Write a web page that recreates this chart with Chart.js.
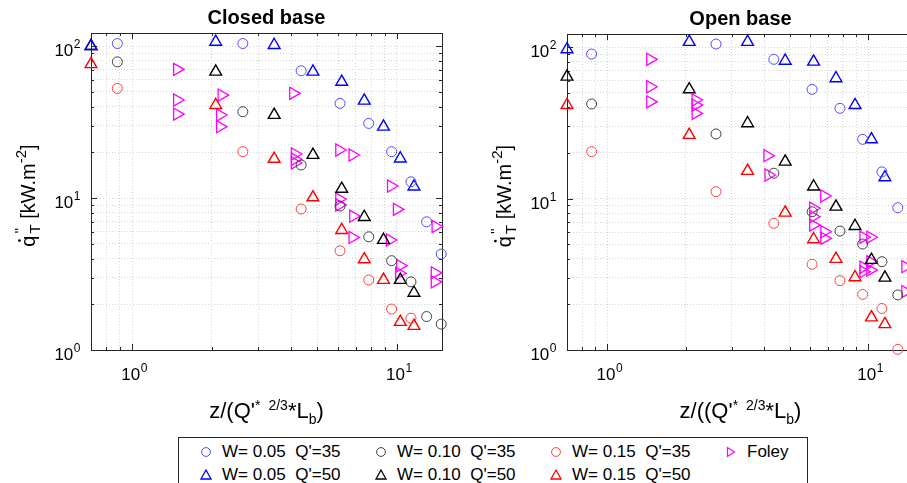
<!DOCTYPE html>
<html lang="en">
<head>
<meta charset="UTF-8" />
<title>Total heat flux - closed and open base</title>
<script src="https://cdn.jsdelivr.net/npm/chart.js"></script>
<style>
  html, body { margin: 0; padding: 0; background: #fff; overflow: hidden; width: 907px; height: 483px; }
  canvas { position: absolute; top: 0; }
  #closedChart { left: 0; }
  #openChart { left: 470px; }
  #legend { position: absolute; left: 178px; top: 437px; width: 630px; height: 70px;
            border: 1px solid #262626; box-sizing: border-box; background: #fff;
            font-family: "Liberation Sans", Arial, sans-serif; font-size: 17px; color: #000; }
  .item { position: absolute; height: 20px; white-space: pre; line-height: 20px; }
  .item svg { position: absolute; left: -8px; top: 2px; }
  .item span { position: absolute; left: 16px; top: 0; }
</style>
</head>
<body>
<canvas id="closedChart" width="460" height="430"></canvas>
<canvas id="openChart" width="460" height="430"></canvas>
<div id="legend"></div>

<script>
// series names, in legend order (row 1 then row 2)
const seriesNames = ["W= 0.05  Q'=35", "W= 0.05  Q'=50", "W= 0.10  Q'=35", "W= 0.10  Q'=50",
                     "W= 0.15  Q'=35", "W= 0.15  Q'=50", "Foley"];

// non-dimensional height z/(Q*^(2/3) Lb) for the two heat release rates
const closedQ35X = [0.88, 2.62, 4.35, 6.10, 7.83, 9.55, 11.3, 12.95, 14.7];
const closedQ50X = [0.70, 2.07, 3.44, 4.82, 6.19, 7.53, 8.90, 10.3, 11.6];
const openQ35X   = [0.87, 2.61, 4.35, 6.10, 7.80, 9.53, 11.3, 13.0];
const openQ50X   = [0.70, 2.06, 3.45, 4.81, 6.18, 7.53, 8.91, 10.3, 11.6];

// closed base, total heat flux [kW/m2]
const closedW05Q35 = [104, 104, 68.8, 42, 31, 20.2, 12.8, 6.98, 4.28];
const closedW05Q50 = [100, 106.7, 101.6, 67.8, 58.2, 43.7, 29.5, 18.2, 11.9];
const closedW10Q35 = [78.8, 37, 16.5, 8.86, 5.56, 3.87, 2.81, 1.66, 1.48];
const closedW10Q50 = [100, 67.8, 35.2, 19.2, 11.5, 7.5, 5.3, 2.89, 2.38];
const closedW15Q35 = [52.7, 20.2, 8.47, 4.5, 2.89, 1.86, 1.62];
const closedW15Q50 = [76, 40.9, 18.1, 10.1, 6.16, 3.95, 2.89, 1.53, 1.44];
const closedFoleyX = [1.48, 1.48, 1.48, 2.18, 2.15, 2.15, 4.06, 4.12, 4.12, 4.12, 6.06, 6.8,
                      9.5, 6.06, 6.06, 6.84, 6.8, 9.41, 10.0, 14.0, 10.3, 10.2, 13.9, 13.9];
const closedFoleyY = [70.3, 44.2, 35.7, 47.6, 35.2, 29.5, 48.9, 19.5, 18.0, 17.0, 20.7, 19.2,
                      12.0, 9.85, 9.0, 7.6, 5.51, 5.3, 8.43, 6.5, 3.59, 3.2, 3.22, 2.81];

// open base
const openW05Q35 = [89.9, 104.7, 83, 52.6, 39.4, 24.6, 15, 8.7];
const openW05Q50 = [96.6, 108, 108, 81.2, 80, 62.2, 41.4, 24.6, 13.8];
const openW10Q35 = [42.1, 26.7, 14.7, 8.18, 6.1, 5.01, 3.83, 2.31];
const openW10Q50 = [63.7, 52.6, 31.4, 17.5, 12.0, 8.83, 6.58, 3.93, 3.0];
const openW15Q35 = [20.4, 11.1, 6.86, 3.68, 2.87, 2.33, 1.88, 1.01];
const openW15Q50 = [41.4, 26.3, 15.2, 8.06, 5.38, 3.99, 3.02, 1.64, 1.48];
const openFoleyX = [1.46, 1.46, 1.46, 2.18, 2.18, 2.18, 4.11, 4.15, 6.79, 6.16, 6.16, 6.16,
                    6.8, 6.8, 9.6, 10.2, 10.2, 9.6, 10.2, 9.6, 13.9, 13.9];
const openFoleyY = [83, 54.7, 43.5, 44.7, 41.4, 36.5, 19.2, 14.3, 10.4, 8.62, 7.59, 6.68,
                    6.04, 5.46, 5.55, 5.55, 3.83, 3.52, 3.37, 3.29, 3.55, 2.43];

// grid positions (log decades)
const xGridValues = [0.7, 0.8, 0.9, 1, 2, 3, 4, 5, 6, 7, 8, 9, 10, 20];
const yGridValues = [1, 2, 3, 4, 5, 6, 7, 8, 9, 10, 20, 30, 40, 50, 60, 70, 80, 90, 100, 200];

const FONT = '"Liberation Sans", Arial, sans-serif';
const marks = [
  { color: '#4d4dff', style: 'circle',   r: 5,   w: 1 },
  { color: '#0000ff', style: 'triangle', r: 6.8, w: 1.4 },
  { color: '#404040', style: 'circle',   r: 5,   w: 1 },
  { color: '#000000', style: 'triangle', r: 6.8, w: 1.4 },
  { color: '#ff4040', style: 'circle',   r: 5,   w: 1 },
  { color: '#ff0000', style: 'triangle', r: 6.8, w: 1.4 },
  { color: '#ff00ff', style: 'triangle', r: 7,   w: 1.3, rot: 90 }
];

const zip = (xs, ys) => ys.map((v, i) => ({ x: xs[i], y: v }));
const isPow10 = v => Math.abs(Math.log10(v) - Math.round(Math.log10(v))) < 1e-9;

// draws a run of text pieces: {t, s: font size, dy: baseline shift, stay: don't advance, dot: dot over previous}
function richWidth(ctx, parts) {
  let w = 0;
  for (const p of parts) {
    if (p.dot || p.stay) continue;
    if (p.gap) { w += p.gap; continue; }
    ctx.font = (p.b ? 'bold ' : '') + p.s + 'px ' + FONT;
    w += ctx.measureText(p.t).width;
  }
  return w;
}
function drawRich(ctx, parts, cx, y) {
  let x = cx - richWidth(ctx, parts) / 2;
  let prev = null;
  ctx.textBaseline = 'alphabetic';
  ctx.textAlign = 'left';
  for (const p of parts) {
    if (p.gap) { x += p.gap; continue; }
    if (p.dot) {
      ctx.beginPath();
      ctx.arc(prev.x + prev.w / 2 + 0.5, y - prev.s * 0.78, 1.4, 0, Math.PI * 2);
      ctx.fill();
      continue;
    }
    ctx.font = (p.b ? 'bold ' : '') + p.s + 'px ' + FONT;
    ctx.fillText(p.t, x, y + (p.dy || 0));
    const w = ctx.measureText(p.t).width;
    prev = { x, w, s: p.s };
    if (!p.stay) x += w;
  }
}
function drawPow(ctx, exp, x, y, align) {
  ctx.font = '17px ' + FONT;
  const w1 = ctx.measureText('10').width;
  ctx.font = '12px ' + FONT;
  const w2 = ctx.measureText(exp).width;
  const left = align === 'right' ? x - w1 - w2 : x - (w1 + w2) / 2;
  ctx.textAlign = 'left';
  ctx.textBaseline = 'alphabetic';
  ctx.font = '17px ' + FONT;
  ctx.fillText('10', left, y);
  ctx.font = '12px ' + FONT;
  ctx.fillText(exp, left + w1 + 0.5, y - 8);
}

const yTitle = [
  { t: 'q', s: 20 }, { dot: true }, { gap: 2 },
  { t: "''", s: 15, dy: -10, stay: true }, { t: 'T', s: 15, dy: 5 },
  { t: ' [kW.m', s: 20 }, { t: '-2', s: 15, dy: -9 }, { t: ']', s: 20 }
];

const axesFrame = {
  id: 'axesFrame',
  beforeDatasetsDraw(chart) {
    const { ctx, chartArea: a, scales: { x, y } } = chart;
    ctx.save();
    ctx.strokeStyle = '#262626';
    ctx.lineWidth = 1;
    ctx.beginPath();
    for (const t of x.ticks) {
      const px = Math.round(x.getPixelForValue(t.value)) + 0.5;
      const len = isPow10(t.value) ? 6 : 3;
      ctx.moveTo(px, a.bottom); ctx.lineTo(px, a.bottom - len);
      ctx.moveTo(px, a.top); ctx.lineTo(px, a.top + len);
    }
    for (const t of y.ticks) {
      const py = Math.round(y.getPixelForValue(t.value)) + 0.5;
      const len = isPow10(t.value) ? 6 : 3;
      ctx.moveTo(a.left, py); ctx.lineTo(a.left + len, py);
      ctx.moveTo(a.right, py); ctx.lineTo(a.right - len, py);
    }
    ctx.stroke();
    ctx.strokeRect(Math.round(a.left) + 0.5, Math.round(a.top) + 0.5,
                   Math.round(a.right - a.left), Math.round(a.bottom - a.top));
    ctx.restore();
  },
  afterDraw(chart, args, opts) {
    const { ctx, chartArea: a, scales: { x, y } } = chart;
    ctx.save();
    ctx.fillStyle = '#000';
    // decade labels
    for (const v of [1, 10, 100]) {
      if (v >= y.min && v <= y.max) drawPow(ctx, String(Math.log10(v)), a.left - 11, y.getPixelForValue(v) + 10, 'right');
      if (v >= x.min && v <= x.max) drawPow(ctx, String(Math.log10(v)), x.getPixelForValue(v) + 2, a.bottom + 30, 'center');
    }
    const cx = (a.left + a.right) / 2;
    // title
    drawRich(ctx, [{ t: opts.title, s: 20, b: true }], cx, a.top - 9);
    // x axis title
    drawRich(ctx, opts.xTitle, cx, a.bottom + 68);
    // y axis title
    ctx.translate(a.left - 56, (a.top + a.bottom) / 2 + 4);
    ctx.rotate(-Math.PI / 2);
    drawRich(ctx, yTitle, 0, 0);
    ctx.restore();
  }
};

function xTitleParts(open) {
  return [
    { t: open ? 'z/((Q\'' : 'z/(Q\'', s: 22 }, { t: '*', s: 14, dy: -8 }, { gap: 8 },
    { t: '2/3', s: 14, dy: -8 }, { t: '*L', s: 22 }, { t: 'b', s: 14, dy: 6 }, { t: ')', s: 22 }
  ];
}

function makeDatasets(sets) {
  return sets.map((pts, i) => ({
    label: seriesNames[i],
    data: pts,
    pointStyle: marks[i].style,
    pointRadius: marks[i].r,
    pointRotation: marks[i].rot || 0,
    borderColor: marks[i].color,
    backgroundColor: 'rgba(0,0,0,0)',
    pointBorderWidth: marks[i].w,
    clip: false
  }));
}

function makePanel(id, title, xTitle, sets, xMax, area) {
  const canvas = document.getElementById(id);
  const gridTicks = vals => s => {
    s.ticks = vals.filter(v => v >= s.min - 1e-9 && v <= s.max + 1e-9).map(v => ({ value: v }));
  };
  return new Chart(canvas, {
    type: 'scatter',
    data: { datasets: makeDatasets(sets) },
    options: {
      responsive: false,
      animation: false,
      layout: { padding: { left: area.left, top: area.top,
                           right: canvas.width - area.right, bottom: canvas.height - area.bottom } },
      plugins: {
        legend: { display: false },
        tooltip: { enabled: false },
        axesFrame: { title, xTitle }
      },
      scales: {
        x: {
          type: 'logarithmic', min: 0.7, max: xMax,
          afterBuildTicks: gridTicks(xGridValues),
          afterFit: s => { s.height = 0; },
          ticks: { display: false },
          grid: { color: '#d4d4d4', drawTicks: false, lineWidth: 1 },
          border: { display: false, dash: [1, 2] }
        },
        y: {
          type: 'logarithmic', min: 1, max: 122,
          afterBuildTicks: gridTicks(yGridValues),
          afterFit: s => { s.width = 0; },
          ticks: { display: false },
          grid: { color: '#d4d4d4', drawTicks: false, lineWidth: 1 },
          border: { display: false, dash: [1, 2] }
        }
      }
    },
    plugins: [axesFrame]
  });
}

makePanel('closedChart', 'Closed base', xTitleParts(false), [
  zip(closedQ35X, closedW05Q35), zip(closedQ50X, closedW05Q50),
  zip(closedQ35X, closedW10Q35), zip(closedQ50X, closedW10Q50),
  zip(closedQ35X, closedW15Q35), zip(closedQ50X, closedW15Q50),
  zip(closedFoleyX, closedFoleyY)
], 14.8, { left: 91, top: 33, right: 442, bottom: 350 });

makePanel('openChart', 'Open base', xTitleParts(true), [
  zip(openQ35X, openW05Q35), zip(openQ50X, openW05Q50),
  zip(openQ35X, openW10Q35), zip(openQ50X, openW10Q50),
  zip(openQ35X, openW15Q35), zip(openQ50X, openW15Q50),
  zip(openFoleyX, openFoleyY)
], 15, { left: 97, top: 34, right: 444, bottom: 350 });

// legend: 4 columns, circles on the first row, triangles below
const legendSlots = [[0, 0], [0, 1], [1, 0], [1, 1], [2, 0], [2, 1], [3, 0]];
const colX = [27, 202, 377, 552];
const rowY = [4, 27];
function legendMarker(m) {
  const c = m.color;
  if (m.style === 'circle')
    return `<svg width="16" height="16"><circle cx="8" cy="8" r="4.4" fill="none" stroke="${c}" stroke-width="1"/></svg>`;
  if (m.rot)
    return `<svg width="16" height="16"><polygon points="4.5,3.5 4.5,12.5 11.5,8" fill="none" stroke="${c}" stroke-width="1.2"/></svg>`;
  return `<svg width="16" height="16"><polygon points="8,3 3,12 13,12" fill="none" stroke="${c}" stroke-width="1.3"/></svg>`;
}
const legend = document.getElementById('legend');
seriesNames.forEach((name, i) => {
  const [col, row] = legendSlots[i];
  const el = document.createElement('div');
  el.className = 'item';
  el.style.left = colX[col] + 'px';
  el.style.top = rowY[row] + 'px';
  el.innerHTML = legendMarker(marks[i]) + '<span></span>';
  el.querySelector('span').textContent = name;
  legend.appendChild(el);
});
</script>
</body>
</html>
